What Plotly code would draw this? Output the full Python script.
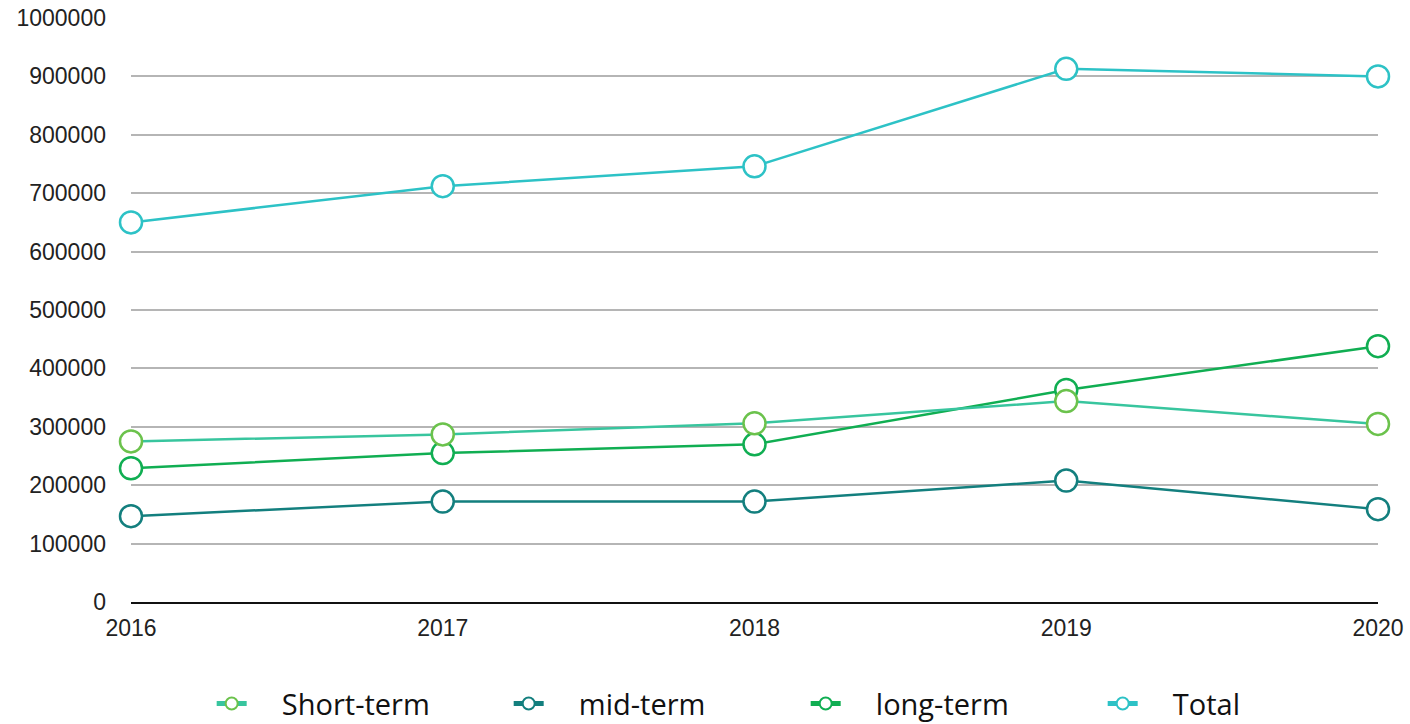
import plotly.graph_objects as go

years = [2016, 2017, 2018, 2019, 2020]
short_term = [275000, 287000, 306000, 344000, 305000]
mid_term = [147000, 172000, 172000, 208000, 159000]
long_term = [229000, 255000, 270000, 363000, 438000]
total = [650000, 712000, 746000, 913000, 900000]

y_ticks = [0, 100000, 200000, 300000, 400000, 500000, 600000, 700000, 800000, 900000, 1000000]

# name, values, line colour, marker outline colour, legend rank
series = [
    ("mid-term", mid_term, "#137F7E", "#137F7E", 2),
    ("long-term", long_term, "#10AE52", "#10AE52", 3),
    ("Short-term", short_term, "#38C59E", "#6BC24C", 1),
    ("Total", total, "#2DC2C6", "#2DC2C6", 4),
]

# non-breaking spaces widen the gap between legend symbol and label
PAD = "\u00a0" * 4

fig = go.Figure()
for name, vals, lc, mc, rank in series:
    fig.add_trace(go.Scatter(
        x=years, y=vals, name=PAD + name, mode="lines+markers",
        line=dict(color=lc, width=2.5),
        marker=dict(size=22, color="white", line=dict(color=mc, width=2.5)),
        cliponaxis=False, legendrank=rank,
    ))

fig.update_layout(
    width=1410, height=724,
    margin=dict(l=131, r=32, t=18, b=122, autoexpand=False),
    paper_bgcolor="white", plot_bgcolor="white",
    showlegend=True,
    legend=dict(
        orientation="h", x=0.0647, xanchor="left", y=-0.174, yanchor="middle",
        font=dict(family="Open Sans", size=29, color="#111111"),
        itemsizing="constant", itemwidth=30,
        entrywidth=252, entrywidthmode="pixels",
        bgcolor="rgba(0,0,0,0)",
    ),
    xaxis=dict(
        range=[2016, 2020], tickmode="array", tickvals=years,
        ticktext=[str(y) for y in years],
        showgrid=False, zeroline=False,
        showline=True, linecolor="#111111", linewidth=2,
        tickfont=dict(family="Liberation Sans", size=23, color="#222222"),
        ticklabelstandoff=4,
    ),
    yaxis=dict(
        range=[0, 1000000], tickmode="array", tickvals=y_ticks,
        ticktext=[str(v) for v in y_ticks],
        showgrid=True, gridcolor="#B5B5B5", gridwidth=2,
        zeroline=False, showline=False,
        tickfont=dict(family="Liberation Sans", size=23, color="#222222"),
        ticklabelstandoff=24,
    ),
)

fig.write_html("out.html")
